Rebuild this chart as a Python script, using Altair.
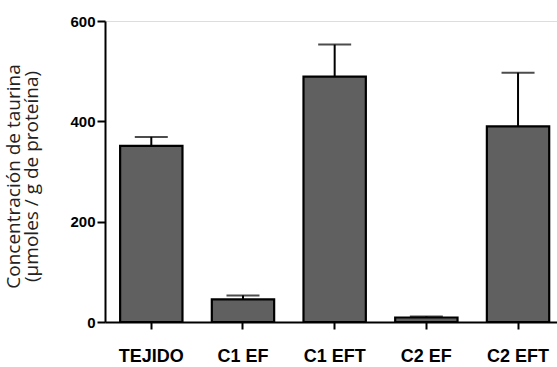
import altair as alt
import pandas as pd

categories = ["TEJIDO", "C1 EF", "C1 EFT", "C2 EF", "C2 EFT"]
means = [351, 45, 489, 9, 390]
errors = [18, 8, 64, 2, 107]

df = pd.DataFrame({"cat": categories, "mean": means, "err": errors})
df["top"] = df["mean"] + df["err"]

x_enc = alt.X("cat:N", sort=categories, title=None,
              scale=alt.Scale(paddingInner=0.32, paddingOuter=0.125, align=0.66),
              axis=alt.Axis(labelAngle=0, labelFont="Liberation Sans", labelFontWeight="bold",
                            labelFontSize=18, labelColor="black", labelPadding=18,
                            tickSize=7, tickWidth=2, tickColor="black",
                            domainWidth=2, domainColor="black"))
y_scale = alt.Scale(domain=[0, 600], nice=False)

bars = alt.Chart(df).mark_bar(color="#606060", stroke="black", strokeWidth=2.2).encode(
    x=x_enc,
    y=alt.Y("mean:Q", scale=y_scale,
            title=["Concentración de taurina", "(µmoles / g de proteína)"],
            axis=alt.Axis(values=[0, 200, 400, 600], grid=False,
                          labelFont="Liberation Sans", labelFontWeight="bold",
                          labelFontSize=15, labelColor="black", labelPadding=2,
                          tickSize=8, tickWidth=2, tickColor="black",
                          domainWidth=2, domainColor="black",
                          titleFont="Open Sans", titleFontSize=19, titleFontWeight="normal",
                          titleColor="#222222", titleLineHeight=18,
                          titleX=-101, titleY=155, titleAngle=-90,
                          titleBaseline="top", titleAlign="center")),
)

rules = alt.Chart(df).mark_rule(color="black", strokeWidth=2).encode(
    x=alt.X("cat:N", sort=categories),
    y=alt.Y("mean:Q", scale=y_scale),
    y2="top:Q",
)

caps = alt.Chart(df).mark_tick(color="black", size=33, thickness=2).encode(
    x=alt.X("cat:N", sort=categories),
    y=alt.Y("top:Q", scale=y_scale),
)

chart = alt.layer(bars, rules, caps).properties(
    width=452, height=301,
    autosize=alt.AutoSizeParams(type="none"),
    padding={"left": 105, "top": 21, "right": 0, "bottom": 45},
).configure_view(stroke=None).configure(background="white")

chart.save("out.html", embed_options={"renderer": "svg", "actions": False})
